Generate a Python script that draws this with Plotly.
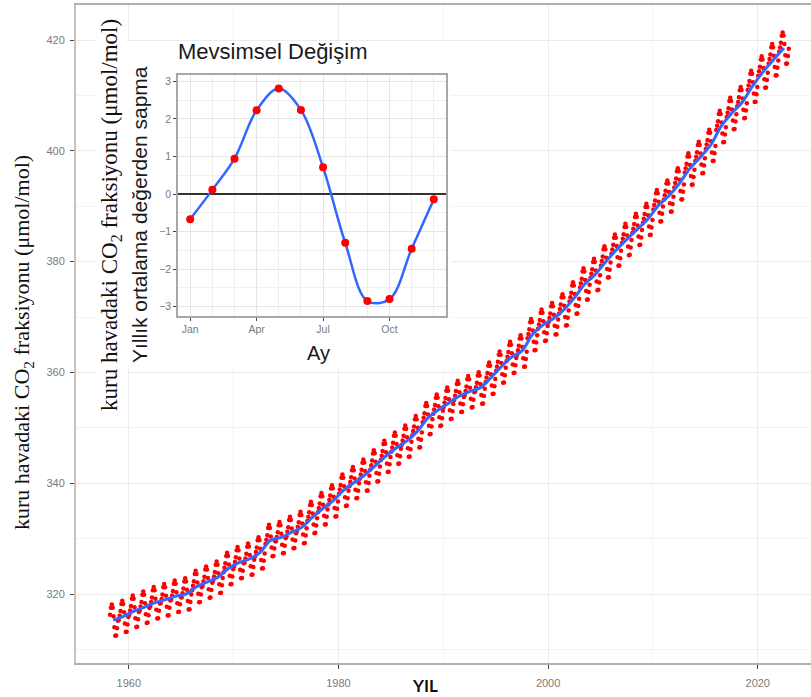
import plotly.graph_objects as go

W, H = 811, 697
ML, MR, MT, MB = 76, 0, 5, 34

# ---------------- data ----------------
years = list(range(1958, 2023))
annual_mean = [315.30, 315.98, 316.91, 317.64, 318.45, 318.99, 319.62, 320.04, 321.37, 322.18,
               323.05, 324.62, 325.68, 326.32, 327.46, 329.68, 330.19, 331.12, 332.03, 333.84,
               335.41, 336.84, 338.76, 340.12, 341.48, 343.15, 344.87, 346.35, 347.61, 349.31,
               351.69, 353.20, 354.45, 355.70, 356.54, 357.21, 358.96, 360.97, 362.74, 363.88,
               366.84, 368.54, 369.71, 371.32, 373.45, 375.98, 377.70, 379.98, 382.09, 384.02,
               385.83, 387.64, 390.10, 391.85, 394.06, 396.74, 398.81, 401.01, 404.41, 406.76,
               408.72, 411.66, 414.24, 416.45, 418.56]
first_month_1958 = 3

month_num = list(range(1, 13))
month_names = ["Jan", "Feb", "Mar", "Apr", "May", "Jun",
               "Jul", "Aug", "Sep", "Oct", "Nov", "Dec"]
seasonal_dev = [-0.67, 0.11, 0.94, 2.23, 2.81, 2.24, 0.71, -1.30, -2.85, -2.80, -1.46, -0.14]

x_tick_years = [1960, 1980, 2000, 2020]
y_tick_ppm = [320, 340, 360, 380, 400, 420]
inset_tick_months = [1, 4, 7, 10]
inset_tick_labels = ["Jan", "Apr", "Jul", "Oct"]

# monthly series from annual level + monthly seasonal deviation
mx, my = [], []
for yr, lvl in zip(years, annual_mean):
    start = first_month_1958 if yr == 1958 else 1
    for m in range(start, 13):
        mx.append(yr + (m - 0.5) / 12.0)
        my.append(lvl + seasonal_dev[m - 1])
trend_x = [yr + 0.5 for yr in years]


def fx(px):
    return (px - ML) / (W - ML - MR)


def fy(py):
    return (H - MB - py) / (H - MT - MB)


fig = go.Figure()

# main chart
fig.add_trace(go.Scatter(x=mx, y=my, mode="markers",
                         marker=dict(color="#ff0000", size=4.5),
                         xaxis="x", yaxis="y", hoverinfo="skip"))
fig.add_trace(go.Scatter(x=trend_x, y=annual_mean, mode="lines",
                         line=dict(color="#3366FF", width=3, shape="spline"),
                         xaxis="x", yaxis="y", hoverinfo="skip"))
# white cover behind the inset
fig.add_trace(go.Scatter(x=[], y=[], xaxis="x2", yaxis="y2"))
# inset
fig.add_trace(go.Scatter(x=month_num, y=seasonal_dev, mode="lines",
                         line=dict(color="#3366FF", width=2.5, shape="spline", smoothing=1.0),
                         xaxis="x3", yaxis="y3", hoverinfo="skip"))
fig.add_trace(go.Scatter(x=month_num, y=seasonal_dev, mode="markers",
                         marker=dict(color="#ff0000", size=8),
                         xaxis="x3", yaxis="y3", hoverinfo="skip"))

tickfont = dict(family="Liberation Sans, Arial, sans-serif", size=11, color="#7a7a7a")

fig.update_layout(
    width=W, height=H,
    margin=dict(l=ML, r=MR, t=MT, b=MB),
    paper_bgcolor="white", plot_bgcolor="white",
    showlegend=False,
    xaxis=dict(domain=[0, 1], range=[1954.96, 2025.08],
               tickvals=x_tick_years, ticks="outside", ticklen=4, tickcolor="#444",
               tickfont=tickfont, ticklabelstandoff=5,
               showgrid=True, gridcolor="#ebebeb", gridwidth=1,
               minor=dict(dtick=10, tick0=1950, showgrid=True, gridcolor="#f3f3f3", gridwidth=1),
               showline=True, linecolor="#b0b0b0", linewidth=2, mirror=True,
               zeroline=False, anchor="y"),
    yaxis=dict(domain=[0, 1], range=[307.55, 426.32],
               tickvals=y_tick_ppm, ticks="outside", ticklen=4, tickcolor="#444",
               tickfont=tickfont, ticklabelstandoff=3,
               showgrid=True, gridcolor="#ebebeb", gridwidth=1,
               minor=dict(dtick=10, tick0=310, showgrid=True, gridcolor="#f3f3f3", gridwidth=1),
               showline=True, linecolor="#c4c4c4", linewidth=2, mirror=False,
               zeroline=False, anchor="x"),
    xaxis2=dict(domain=[fx(97), fx(451)], range=[0, 1], showgrid=False, zeroline=False,
                showticklabels=False, showline=False, ticks="", anchor="y2", fixedrange=True),
    yaxis2=dict(domain=[fy(368), fy(41)], range=[0, 1], showgrid=False, zeroline=False,
                showticklabels=False, showline=False, ticks="", anchor="x2", fixedrange=True),
    xaxis3=dict(domain=[fx(178), fx(446)], range=[0.45, 12.55],
                tickvals=inset_tick_months, ticktext=inset_tick_labels,
                ticks="outside", ticklen=3, tickcolor="#444",
                tickfont=dict(family="Liberation Sans, Arial, sans-serif", size=10.5, color="#7a7a7a"),
                showgrid=True, gridcolor="#e6e6e6", gridwidth=1,
                minor=dict(dtick=1, tick0=1, showgrid=True, gridcolor="#efefef", gridwidth=1),
                showline=True, linecolor="#a8a8a8", linewidth=1.5, mirror=True,
                zeroline=False, anchor="y3"),
    yaxis3=dict(domain=[fy(316), fy(75)], range=[-3.25, 3.17],
                dtick=1, tick0=0, ticks="outside", ticklen=3, tickcolor="#444",
                tickfont=dict(family="Liberation Sans, Arial, sans-serif", size=10.5, color="#7a7a7a"),
                showgrid=True, gridcolor="#e6e6e6", gridwidth=1,
                minor=dict(dtick=0.5, tick0=0, showgrid=True, gridcolor="#efefef", gridwidth=1),
                showline=True, linecolor="#a8a8a8", linewidth=1.5, mirror=True,
                zeroline=True, zerolinecolor="#333333", zerolinewidth=1.5, anchor="x3"),
)

serif = "Liberation Serif, Times New Roman, serif"
sans = "Liberation Sans, Arial, sans-serif"
ytitle = "kuru havadaki CO<sub>2</sub> fraksiyonu (μmol/mol)"

annotations = [
    dict(text=ytitle, x=fx(23), y=fy(343), xref="paper", yref="paper",
         textangle=-90, showarrow=False, xanchor="center", yanchor="middle",
         font=dict(family=serif, size=22, color="#111111")),
    dict(text=ytitle, x=fx(111), y=fy(215), xref="paper", yref="paper",
         textangle=-90, showarrow=False, xanchor="center", yanchor="middle",
         bgcolor="white", font=dict(family=serif, size=23, color="#111111")),
    dict(text="Yıllık ortalama değerden sapma", x=fx(139), y=fy(215), xref="paper", yref="paper",
         textangle=-90, showarrow=False, xanchor="center", yanchor="middle",
         font=dict(family=sans, size=21, color="#1a1a1a")),
    dict(text="Mevsimsel Değişim", x=fx(176), y=fy(52), xref="paper", yref="paper",
         showarrow=False, xanchor="left", yanchor="middle",
         font=dict(family=sans, size=22, color="#1a1a1a")),
    dict(text="Ay", x=fx(318), y=fy(353), xref="paper", yref="paper",
         showarrow=False, xanchor="center", yanchor="middle",
         font=dict(family=sans, size=20, color="#1a1a1a")),
    dict(text="<b>YIL</b>", x=fx(425), y=fy(685), xref="paper", yref="paper",
         showarrow=False, xanchor="center", yanchor="middle",
         font=dict(family="Lato, Liberation Sans, sans-serif", size=17, color="#111111")),
]
fig.update_layout(annotations=annotations)

fig.write_html(
    "out.html",
    config={"displayModeBar": False},
    post_script="document.body.style.margin='0';document.body.style.padding='0';"
                "document.documentElement.style.overflow='hidden';document.body.style.overflow='hidden';",
)
